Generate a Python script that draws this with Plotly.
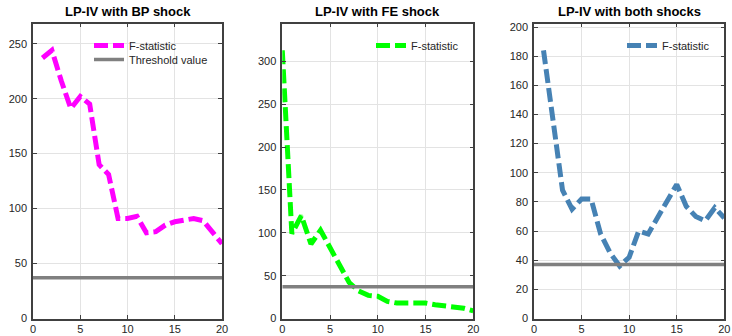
import plotly.graph_objects as go

# Horizons and first-stage F-statistics for each LP-IV specification
horizons_bp = list(range(1, 21))
fstat_bp = [237, 244, 216, 191, 202, 195, 140, 131, 91, 91,
            93, 78, 79, 85, 88, 90, 91, 89, 79, 68]

horizons_fe = list(range(0, 21))
fstat_fe = [313, 99, 120, 87, 103, 83, 62, 42, 32, 27, 26,
            20, 18, 18, 18, 18, 16, 15, 14, 12, 9]

horizons_both = list(range(1, 21))
fstat_both = [184, 133, 88, 75, 82, 82, 58, 45, 36, 42,
              60, 58, 69, 81, 92, 77, 70, 67, 76, 69]

# Weak-instrument critical value, drawn over the full horizon range
threshold = 37
threshold_span = [0, 20]

panel_titles = ["LP-IV with BP shock", "LP-IV with FE shock", "LP-IV with both shocks"]
y_steps = [50, 50, 20]
x_ticks = [0, 5, 10, 15, 20]

colors = ["#ff00ff", "#00ff00", "#4682b4"]
series = [(horizons_bp, fstat_bp), (horizons_fe, fstat_fe), (horizons_both, fstat_both)]

W, H = 732, 336
x_domains = [(33, 222), (282.3, 473.3), (534, 724.3)]
y_top, y_bot = 23.5, 318.5
y_domain = [1 - y_bot / H, 1 - y_top / H]

axis_color = "#404040"
grid_color = "#e3e3e3"
text_color = "#262626"
font_family = "Liberation Sans, Arial, sans-serif"

fig = go.Figure()
layout = dict(
    width=W, height=H,
    margin=dict(l=0, r=0, t=0, b=0),
    paper_bgcolor="white", plot_bgcolor="white",
    font=dict(family=font_family, size=11, color=text_color),
    showlegend=True,
    annotations=[],
)

legend_x = [89, 371, 622]
legend_font = dict(family=font_family, size=11, color=text_color)


def legend_box(x_px, y_px):
    return dict(
        x=x_px / W, y=1 - y_px / H, xanchor="left", yanchor="top",
        bgcolor="rgba(0,0,0,0)", borderwidth=0, font=legend_font,
    )


for i, ((xs, ys), color) in enumerate(zip(series, colors)):
    n = "" if i == 0 else str(i + 1)
    leg = "legend" if i == 0 else f"legend{i + 1}"
    fig.add_trace(go.Scatter(
        x=xs, y=ys, mode="lines", name="F-statistic",
        line=dict(color=color, width=5, dash="14px,5px"),
        xaxis=f"x{n}", yaxis=f"y{n}", legend=leg,
    ))
    # the threshold entry sits in its own legend box just below the first
    fig.add_trace(go.Scatter(
        x=threshold_span, y=[threshold, threshold], mode="lines",
        name="Threshold value",
        line=dict(color="#808080", width=3.5),
        xaxis=f"x{n}", yaxis=f"y{n}", legend="legend4",
        showlegend=(i == 0),
    ))

    x0, x1 = x_domains[i]
    ymax = max(ys) * 1.1
    common = dict(
        showline=True, linecolor=axis_color, linewidth=1.5, mirror="ticks",
        ticks="inside", ticklen=4, tickcolor=axis_color, tickwidth=1,
        showgrid=True, gridcolor=grid_color, gridwidth=1,
        zeroline=False, automargin=False,
        tickfont=dict(family=font_family, size=11, color=text_color),
    )
    layout[f"xaxis{n}"] = dict(
        domain=[x0 / W, x1 / W], range=[0, 20], anchor=f"y{n}",
        tickvals=x_ticks, **common,
    )
    layout[f"yaxis{n}"] = dict(
        domain=y_domain, range=[0, ymax], anchor=f"x{n}",
        tick0=0, dtick=y_steps[i], ticklabelstandoff=2, **common,
    )
    layout[leg] = legend_box(legend_x[i], 31)
    layout["annotations"].append(dict(
        text=f"<b>{panel_titles[i]}</b>", xref="paper", yref="paper",
        x=(x0 + x1) / 2 / W, y=1 - 12 / H, xanchor="center", yanchor="middle",
        showarrow=False, font=dict(family=font_family, size=13, color="#000000"),
    ))

layout["legend4"] = legend_box(legend_x[0], 45)

fig.update_layout(**layout)
fig.write_html("out.html")
